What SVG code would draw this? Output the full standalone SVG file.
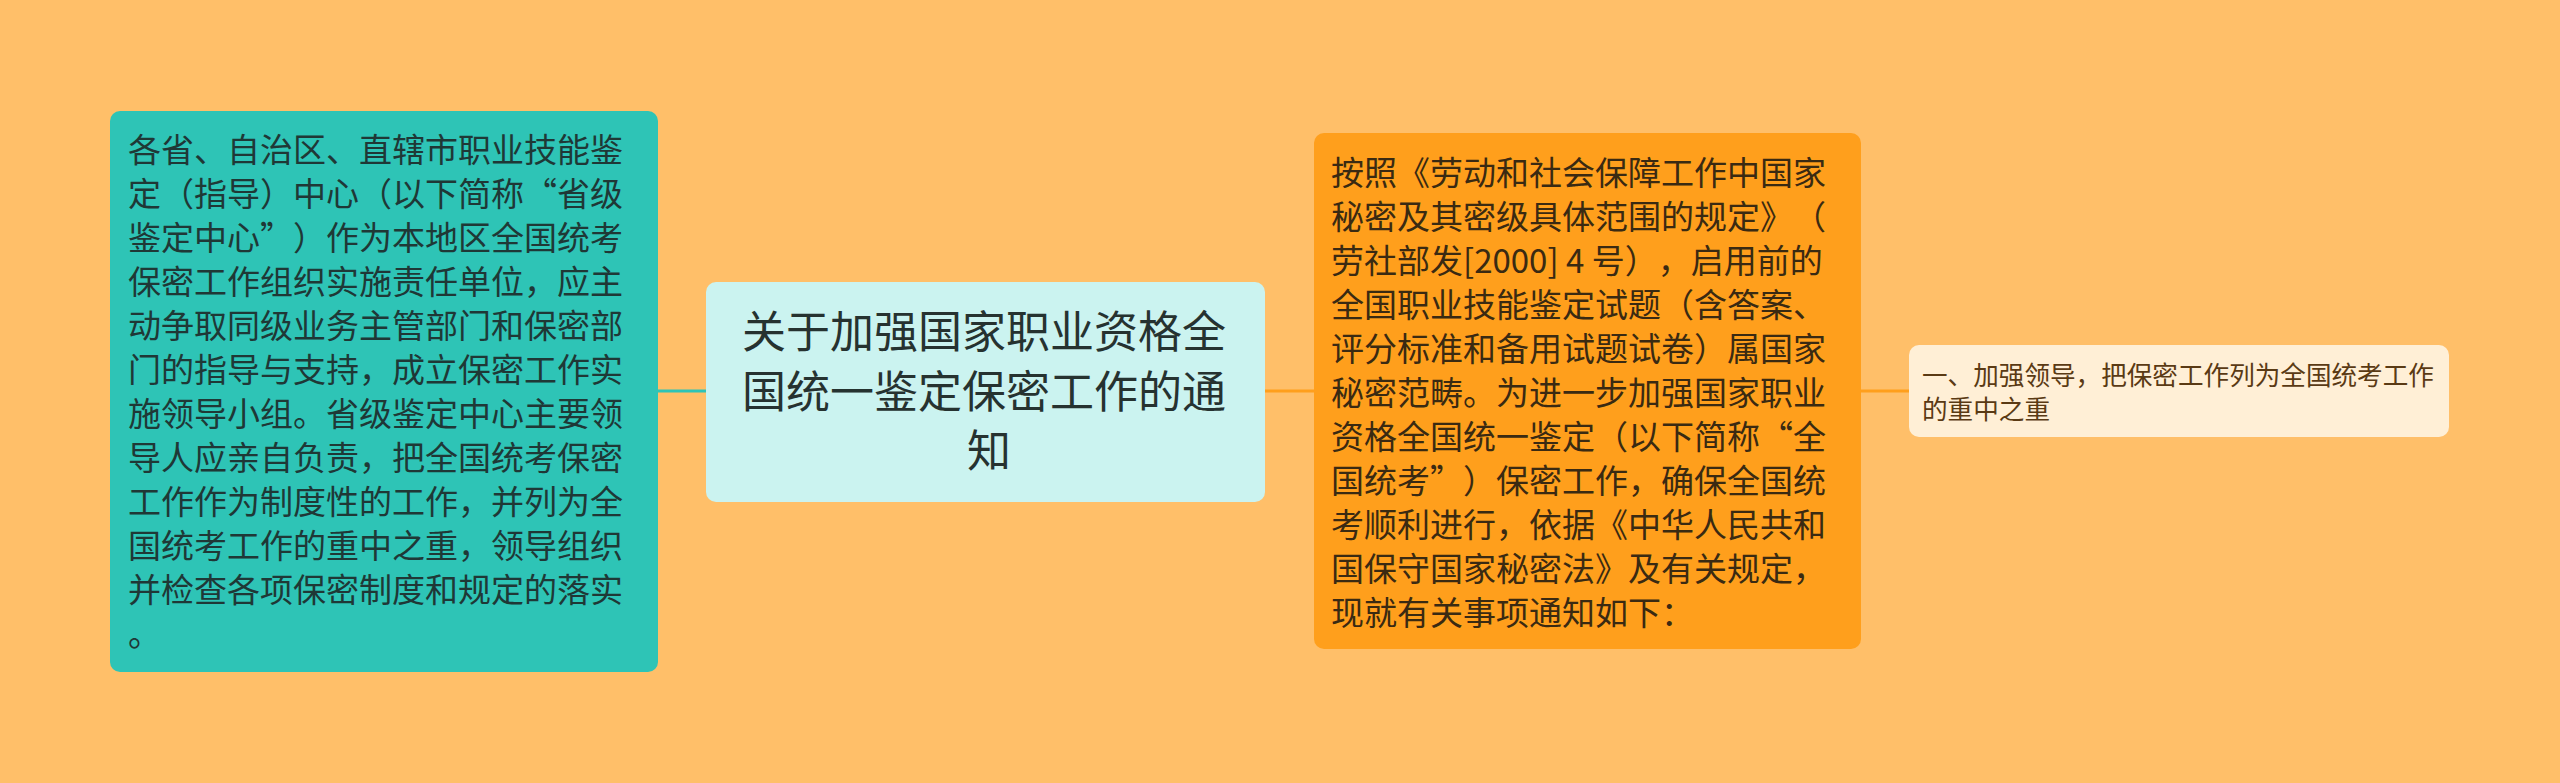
<svg xmlns="http://www.w3.org/2000/svg" width="2560" height="783" viewBox="0 0 2560 783">
<style>
text{font-family:"Noto Sans CJK SC","Noto Sans",sans-serif;text-spacing-trim:space-all;}
.q{font-feature-settings:"fwid";}
.l{font-size:33px;fill:#1f3836;}
.c{font-size:44px;fill:#263230;text-anchor:middle;}
.m{font-size:33px;fill:#3a2a12;}
.r{font-size:25.6px;fill:#5a3a14;}
.conn{fill:none;stroke-width:3;}
</style>
<rect x="0" y="0" width="2560" height="783" fill="#FFBF69"/>
<g id="connectors">
<line class="conn" x1="658" y1="391" x2="706" y2="391" stroke="#2EC4B6"/>
<line class="conn" x1="1264" y1="391" x2="1314" y2="391" stroke="#FF9F1C"/>
<line class="conn" x1="1860" y1="391" x2="1910" y2="391" stroke="#FF9F1C"/>
</g>
<g id="node-left">
<rect x="110" y="111" width="548" height="561" rx="10" fill="#2EC4B6"/>
<text class="l">
<tspan x="128" y="162">各省、自治区、直辖市职业技能鉴</tspan>
<tspan x="128" y="206">定（指导）中心（以下简称<tspan class="q">“</tspan>省级</tspan>
<tspan x="128" y="250">鉴定中心<tspan class="q">”</tspan>）作为本地区全国统考</tspan>
<tspan x="128" y="294">保密工作组织实施责任单位，应主</tspan>
<tspan x="128" y="338">动争取同级业务主管部门和保密部</tspan>
<tspan x="128" y="382">门的指导与支持，成立保密工作实</tspan>
<tspan x="128" y="426">施领导小组。省级鉴定中心主要领</tspan>
<tspan x="128" y="470">导人应亲自负责，把全国统考保密</tspan>
<tspan x="128" y="514">工作作为制度性的工作，并列为全</tspan>
<tspan x="128" y="558">国统考工作的重中之重，领导组织</tspan>
<tspan x="128" y="602">并检查各项保密制度和规定的落实</tspan>
<tspan x="128" y="646">。</tspan>
</text>
</g>
<g id="node-center">
<rect x="706" y="282" width="559" height="220" rx="10" fill="#CBF3F0"/>
<text class="c">
<tspan x="989" y="348">关于加强国家职业资格全</tspan>
<tspan x="989" y="407.5">国统一鉴定保密工作的通</tspan>
<tspan x="989" y="467">知</tspan>
</text>
</g>
<g id="node-main">
<rect x="1314" y="133" width="547" height="516" rx="10" fill="#FF9F1C"/>
<text class="m">
<tspan x="1331" y="185">按照《劳动和社会保障工作中国家</tspan>
<tspan x="1331" y="229">秘密及其密级具体范围的规定》（</tspan>
<tspan x="1331" y="273">劳社部发[2000] 4 号），启用前的</tspan>
<tspan x="1331" y="317">全国职业技能鉴定试题（含答案、</tspan>
<tspan x="1331" y="361">评分标准和备用试题试卷）属国家</tspan>
<tspan x="1331" y="405">秘密范畴。为进一步加强国家职业</tspan>
<tspan x="1331" y="449">资格全国统一鉴定（以下简称<tspan class="q">“</tspan>全</tspan>
<tspan x="1331" y="493">国统考<tspan class="q">”</tspan>）保密工作，确保全国统</tspan>
<tspan x="1331" y="537">考顺利进行，依据《中华人民共和</tspan>
<tspan x="1331" y="581">国保守国家秘密法》及有关规定，</tspan>
<tspan x="1331" y="625">现就有关事项通知如下：</tspan>
</text>
</g>
<g id="node-item1">
<rect x="1909" y="345" width="540" height="92" rx="10" fill="#FFEFD6"/>
<text class="r">
<tspan x="1922" y="385">一、加强领导，把保密工作列为全国统考工作</tspan>
<tspan x="1922" y="419">的重中之重</tspan>
</text>
</g>
</svg>
